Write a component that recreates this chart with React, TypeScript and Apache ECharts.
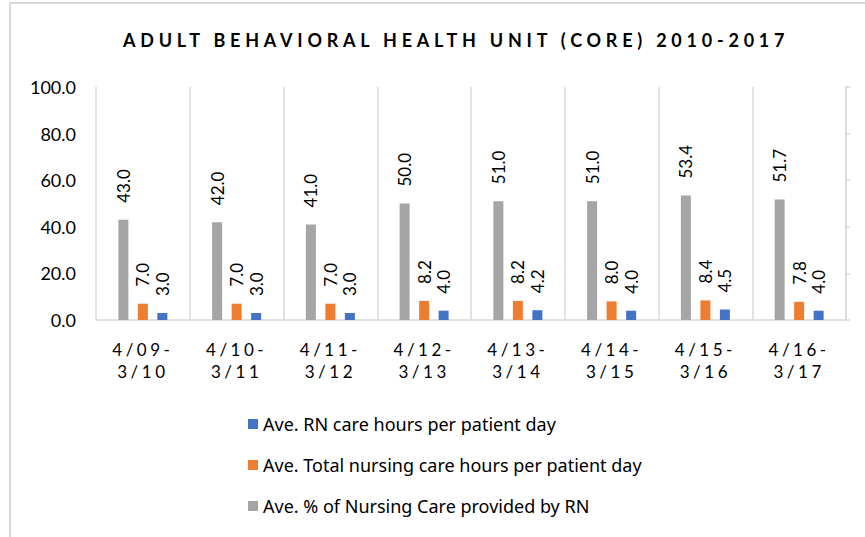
import React, { useEffect, useRef } from "react";
import * as echarts from "echarts";

const TITLE = "ADULT BEHAVIORAL HEALTH UNIT (CORE) 2010-2017";
const categories = [
  "4/09-\n3/10",
  "4/10-\n3/11",
  "4/11-\n3/12",
  "4/12-\n3/13",
  "4/13-\n3/14",
  "4/14-\n3/15",
  "4/15-\n3/16",
  "4/16-\n3/17",
];
const seriesNames = [
  "Ave. RN care hours per patient day",
  "Ave. Total nursing care hours per patient day",
  "Ave. % of Nursing Care provided by RN",
];
const rnHours = [3.0, 3.0, 3.0, 4.0, 4.2, 4.0, 4.5, 4.0];
const totalHours = [7.0, 7.0, 7.0, 8.2, 8.2, 8.0, 8.4, 7.8];
const pctRN = [43.0, 42.0, 41.0, 50.0, 51.0, 51.0, 53.4, 51.7];

const BLUE = "#4472C4";
const ORANGE = "#ED7D31";
const GRAY = "#A5A5A5";
const LINE = "#D9D9D9";
const FONT = "Lato";

export default function App() {
  const ref = useRef<HTMLDivElement>(null);

  useEffect(() => {
    document.body.style.margin = "0";
    const el = ref.current!;
    const chart = echarts.init(el, undefined, { renderer: "svg" });

    const label = {
      show: true,
      position: "top",
      rotate: 90,
      align: "left",
      verticalAlign: "middle",
      distance: 17,
      fontFamily: FONT,
      fontSize: 17,
      color: "#000",
      formatter: (p: any) => Number(p.value).toFixed(1),
    };

    const bar = (name: string, data: number[], color: string) => ({
      name,
      type: "bar",
      data,
      barWidth: 10,
      barGap: "95%",
      itemStyle: { color },
      label,
    });

    chart.setOption({
      animation: false,
      backgroundColor: "#fff",
      title: {
        text: TITLE,
        left: 123,
        top: 31,
        padding: 0,
        textStyle: { fontFamily: FONT, fontWeight: "bold", fontSize: 18, color: "#000" },
      },
      graphic: [
        {
          type: "rect",
          shape: { x: 10, y: 3, width: 2000, height: 2000 },
          style: { fill: "none", stroke: LINE, lineWidth: 2 },
          silent: true,
        },
      ],
      legend: {
        orient: "vertical",
        left: 243,
        top: 409,
        itemWidth: 10,
        itemHeight: 10,
        itemGap: 21,
        icon: "rect",
        data: seriesNames,
        textStyle: { fontFamily: "Noto Sans", fontSize: 18, color: "#000", lineHeight: 20 },
      },
      grid: { left: 96, right: 19, top: 87, bottom: 217 },
      xAxis: {
        type: "category",
        data: categories,
        axisLine: { show: true, lineStyle: { color: LINE, width: 1.5 } },
        axisTick: { show: false },
        splitLine: { show: true, lineStyle: { color: LINE, width: 1.5 } },
        axisLabel: {
          fontFamily: FONT,
          fontSize: 17,
          color: "#000",
          lineHeight: 22,
          margin: 18,
          interval: 0,
        },
      },
      yAxis: [
        {
          type: "value",
          min: 0,
          max: 100,
          interval: 20,
          axisLine: { show: false },
          axisTick: { show: false },
          splitLine: { show: false },
          axisLabel: {
            fontFamily: FONT,
            fontSize: 18,
            color: "#000",
            margin: 20,
            formatter: (v: number) => v.toFixed(1),
          },
        },
        {
          type: "value",
          position: "right",
          min: 0,
          max: 100,
          interval: 20,
          axisLine: { show: true, lineStyle: { color: LINE, width: 1.5 } },
          axisTick: { show: true, length: 4, lineStyle: { color: LINE, width: 1.5 } },
          splitLine: { show: false },
          axisLabel: { show: false },
        },
      ],
      series: [
        bar(seriesNames[2], pctRN, GRAY),
        bar(seriesNames[1], totalHours, ORANGE),
        bar(seriesNames[0], rnHours, BLUE),
      ],
    });

    const applySpacing = () => {
      const canvas = document.createElement("canvas");
      const ctx = canvas.getContext("2d")!;
      ctx.font = `bold 18px ${FONT}`;
      const natural = ctx.measureText(TITLE).width;
      const ls = Math.max(0, (663 - natural) / (TITLE.length - 1));
      el.querySelectorAll("text").forEach((t) => {
        const s = t.textContent || "";
        if (s === TITLE) {
          t.setAttribute("letter-spacing", ls.toFixed(2));
        } else if (/^\d\/\d\d-?$/.test(s)) {
          t.setAttribute("letter-spacing", "3.5");
        }
      });
    };
    applySpacing();
    chart.on("finished", applySpacing);

    return () => {
      chart.dispose();
    };
  }, []);

  return (
    <div
      ref={ref}
      style={{ position: "fixed", left: 0, top: 0, width: 865, height: 537 }}
    />
  );
}
